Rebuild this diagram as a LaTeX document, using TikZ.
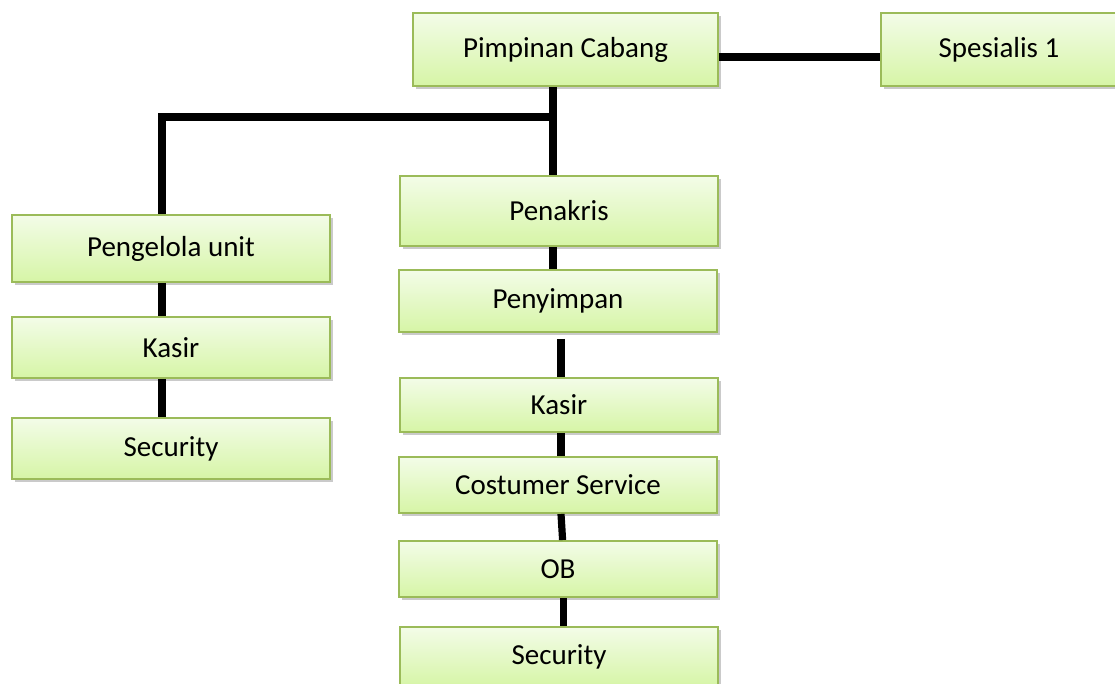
\documentclass[tikz,border=0pt]{standalone}
\usepackage{fontspec}
\setmainfont{Carlito}
\usetikzlibrary{positioning,shadows}

\definecolor{boxline}{RGB}{155,187,89}
\definecolor{boxtop}{RGB}{243,252,232}
\definecolor{boxbottom}{RGB}{214,245,166}

\tikzset{
	unit/.style={draw=boxline, line width=1pt, rectangle, top color=boxtop, bottom color=boxbottom,
		drop shadow={shadow xshift=1.5pt, shadow yshift=-1.5pt, opacity=0.35, fill=black!60},
		font=\fontsize{14.5}{17}\selectfont, inner sep=0pt},
	link/.style={line width=3.6pt, black}
}

\begin{document}
\begin{tikzpicture}[x=0.5pt, y=-0.5pt]
		\useasboundingbox (0,0) rectangle (1115,684);
		\begin{scope}[unit/.append style={minimum width=159pt}]
			% pimpinan dan spesialis
			\node (pc) [unit, minimum width=152.5pt, minimum height=36.5pt] at (565.5,49.5) {Pimpinan Cabang};
			\node (sp) [unit, minimum width=118pt, minimum height=36.5pt] at (999,49.5) {Spesialis 1};
			
			% kolom kiri
			\node (pu) [unit, minimum height=33.5pt] at (171,248.5) {Pengelola unit};
			\node (k1) [unit, minimum height=30.5pt] at (171,347.5) {Kasir};
			\node (s1) [unit, minimum height=30.5pt] at (171,448.5) {Security};
			
			% kolom tengah
			\node (pk) [unit, minimum height=35pt] at (559,211) {Penakris};
			\node (pn) [unit, minimum height=31pt] at (558,301) {Penyimpan};
			\node (k2) [unit, minimum height=27pt] at (559,405) {Kasir};
			\node (cs) [unit, minimum height=28pt] at (558,485) {Costumer Service};
			\node (ob) [unit, minimum height=28pt] at (558,569) {OB};
			\node (s2) [unit, minimum height=30pt] at (559,657) {Security};
		\end{scope}
		
		\coordinate (j) at (553,117);
		\coordinate (jl) at (162,117);
		\coordinate (m) at (561,339);
		
		\draw [link] (pc.east |- 0,57) -- (sp.west |- 0,57);
		\draw [link] (pc.south -| j) -- (pk.north -| j);
		\draw [link] (j) -- (jl) -- (pu.north -| jl);
		\draw [link] (pk.south -| j) -- (pn.north -| j);
		\draw [link] (pu.south -| jl) -- (k1.north -| jl);
		\draw [link] (k1.south -| jl) -- (s1.north -| jl);
		\draw [link] (m) -- (k2.north -| m);
		\draw [link] (k2.south -| m) -- (cs.north -| m);
		\draw [link] (cs.south -| m) -- ([xshift=0.8pt]ob.north -| m);
		\draw [link] ([xshift=1.2pt]ob.south -| m) -- ([xshift=1.2pt]s2.north -| m);
	\end{tikzpicture}
\end{document}
